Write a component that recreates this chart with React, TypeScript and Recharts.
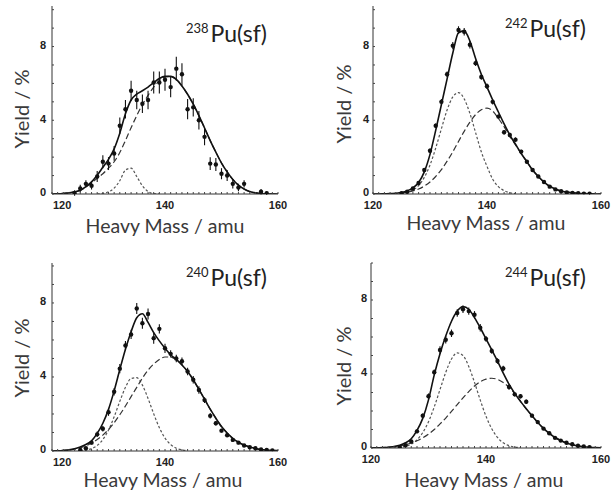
import React from "react";
import { ComposedChart, Line, Scatter, ErrorBar, XAxis, YAxis } from "recharts";

// heavy fragment mass grid (amu)
const MASS = [
  120, 121, 122, 123, 124, 125, 126, 127, 128, 129, 130, 131, 132, 133, 134, 135, 136, 137, 138, 139, 140,
  141, 142, 143, 144, 145, 146, 147, 148, 149, 150, 151, 152, 153, 154, 155, 156, 157, 158, 159, 160,
];
const X_MAJOR = [120, 140, 160];
const Y_MAJOR = [0, 4, 8];
const Y_MINOR = [0, 1, 2, 3, 4, 5, 6, 7, 8, 9, 10];
const NUCLIDES = ["238", "242", "240", "244"];

// 238Pu(sf)
const FIT_238 = [
  0, 0.01, 0.03, 0.06, 0.12, 0.2, 0.4, 0.66, 1.02, 1.45, 1.88, 2.45, 3.3, 4.35, 5.1, 5.42, 5.6, 5.8, 6.04, 6.27, 6.38,
  6.38, 6.22, 5.86, 5.41, 4.87, 4.25, 3.58, 2.9, 2.27, 1.68, 1.2, 0.79, 0.48, 0.27, 0.13, 0.06, 0.03, 0.01, 0, 0,
];
const BROAD_238 = [
  0, 0.01, 0.03, 0.06, 0.12, 0.2, 0.38, 0.6, 0.85, 1.1, 1.4, 1.75, 2.25, 2.9, 3.6, 4.25, 4.85, 5.35, 5.8, 6.15, 6.35,
  6.38, 6.22, 5.86, 5.41, 4.87, 4.25, 3.58, 2.9, 2.27, 1.68, 1.2, 0.79, 0.48, 0.27, 0.13, 0.06, 0.03, 0.01, 0, 0,
];
const NARROW_238 = [
  null, null, null, null, null, null, null, null, 0, 0.03, 0.12, 0.32, 0.72, 1.3, 1.4, 0.95, 0.45, 0.13, 0.02, 0, null,
  null, null, null, null, null, null, null, null, null, null, null, null, null, null, null, null, null, null, null, null,
];
const PT_238_MASS = [
  124, 125, 126, 127, 128, 129, 130, 131, 132, 133, 134, 135, 136, 137, 138, 139, 140, 141, 142, 143, 144, 145, 146,
  147, 148, 149, 150, 151, 152, 153, 154, 157, 158,
];
const PT_238_YIELD = [
  0.05, 0.3, 0.55, 0.45, 0.95, 1.75, 1.65, 2.2, 3.7, 4.6, 5.6, 5.1, 4.9, 5.1, 6.05, 6.05, 6.2, 5.8, 6.8, 6.5, 4.6, 4.7,
  4.0, 3.1, 1.65, 1.6, 1.1, 1.0, 0.55, 0.35, 0.55, 0.12, 0.05,
];
const PT_238_ERR = [
  0.15, 0.2, 0.2, 0.2, 0.3, 0.35, 0.35, 0.4, 0.45, 0.5, 0.55, 0.5, 0.5, 0.5, 0.6, 0.6, 0.6, 0.55, 0.65, 0.6, 0.55, 0.5,
  0.5, 0.45, 0.35, 0.35, 0.3, 0.3, 0.25, 0.2, 0.2, 0.15, 0.1,
];

// 242Pu(sf)
const FIT_242 = [
  0, 0, 0.01, 0.02, 0.04, 0.08, 0.17, 0.33, 0.62, 1.2, 2.15, 3.45, 4.85, 6.25, 7.65, 8.75, 8.85, 8.3, 7.35, 6.5, 5.8,
  5.1, 4.45, 3.8, 3.2, 2.7, 2.2, 1.75, 1.3, 0.95, 0.65, 0.42, 0.27, 0.16, 0.1, 0.06, 0.03, 0.02, 0.01, 0, 0,
];
const BROAD_242 = [
  0, 0, 0.01, 0.02, 0.03, 0.06, 0.1, 0.17, 0.27, 0.43, 0.65, 0.95, 1.32, 1.78, 2.29, 2.85, 3.4, 3.9, 4.31, 4.57, 4.66,
  4.5, 4.1, 3.65, 3.13, 2.67, 2.19, 1.75, 1.3, 0.95, 0.65, 0.42, 0.27, 0.16, 0.1, 0.06, 0.03, 0.02, 0.01, 0, 0,
];
const NARROW_242 = [
  null, null, null, null, null, 0.02, 0.09, 0.21, 0.46, 0.9, 1.57, 2.49, 3.54, 4.56, 5.27, 5.5, 5.16, 4.37, 3.33, 2.29,
  1.5, 0.8, 0.4, 0.18, 0.07, 0.02, null, null, null, null, null, null, null, null, null, null, null, null, null, null, null,
];
const PT_242_MASS = [
  125, 126, 127, 128, 129, 130, 131, 132, 133, 134, 135, 136, 137, 138, 139, 140, 141, 142, 143, 144, 145, 146, 147,
  148, 149, 150, 151, 152, 153, 154, 155, 156, 157, 158,
];
const PT_242_YIELD = [
  0.05, 0.12, 0.3, 0.6, 1.3, 2.35, 3.7, 5.0, 6.5, 8.05, 8.9, 8.8, 8.1, 7.1, 6.35, 5.85, 5.0, 4.2, 3.35, 3.2, 2.95, 2.3,
  1.75, 1.3, 0.95, 0.65, 0.4, 0.25, 0.15, 0.08, 0.06, 0.04, 0.02, 0.01,
];
const PT_242_ERR = [
  0.05, 0.05, 0.08, 0.1, 0.1, 0.12, 0.12, 0.15, 0.15, 0.2, 0.2, 0.2, 0.2, 0.15, 0.15, 0.15, 0.15, 0.12, 0.12, 0.12,
  0.12, 0.1, 0.1, 0.1, 0.08, 0.08, 0.08, 0.05, 0.05, 0.05, 0.05, 0.05, 0.05, 0.05,
];

// 240Pu(sf)
const FIT_240 = [
  0, 0.01, 0.03, 0.06, 0.12, 0.22, 0.35, 0.55, 0.95, 1.5, 2.25, 3.25, 4.4, 5.5, 6.45, 7.2, 7.42, 6.95, 6.4, 5.95, 5.55,
  5.2, 4.95, 4.65, 4.3, 3.85, 3.33, 2.8, 2.26, 1.77, 1.32, 0.97, 0.68, 0.47, 0.32, 0.22, 0.14, 0.08, 0.05, 0.03, 0.02,
];
const BROAD_240 = [
  0, 0.01, 0.03, 0.05, 0.1, 0.17, 0.27, 0.44, 0.62, 0.86, 1.16, 1.53, 1.96, 2.43, 2.94, 3.44, 3.94, 4.37, 4.7, 4.95,
  5.08, 5.08, 4.93, 4.65, 4.3, 3.85, 3.33, 2.8, 2.26, 1.77, 1.32, 0.97, 0.68, 0.47, 0.32, 0.22, 0.14, 0.08, 0.05, 0.03,
  0.02,
];
const NARROW_240 = [
  null, null, null, null, null, 0.02, 0.05, 0.13, 0.3, 0.62, 1.13, 1.85, 2.68, 3.44, 3.92, 3.96, 3.56, 2.84, 2.01, 1.26,
  0.7, 0.35, 0.15, 0.06, 0.02, null, null, null, null, null, null, null, null, null, null, null, null, null, null, null,
  null,
];
const PT_240_MASS = [
  125, 126, 127, 128, 129, 130, 131, 132, 133, 134, 135, 136, 137, 138, 139, 140, 141, 142, 143, 144, 145, 146, 147,
  148, 149, 150, 151, 152, 153, 154, 155, 156, 157, 158, 159,
];
const PT_240_YIELD = [
  0.05, 0.15, 0.45, 0.9, 1.2, 2.1, 3.2, 4.45, 5.7, 6.3, 7.7, 6.9, 7.4, 6.1, 6.6, 5.55, 5.25, 5.0, 4.85, 4.3, 3.85, 3.3,
  2.75, 1.9, 1.5, 1.1, 0.85, 0.6, 0.45, 0.3, 0.2, 0.15, 0.08, 0.05, 0.03,
];
const PT_240_ERR = [
  0.05, 0.08, 0.1, 0.15, 0.15, 0.2, 0.2, 0.25, 0.25, 0.25, 0.3, 0.3, 0.3, 0.3, 0.25, 0.25, 0.2, 0.2, 0.2, 0.2, 0.2, 0.2,
  0.15, 0.15, 0.12, 0.1, 0.1, 0.08, 0.08, 0.06, 0.05, 0.05, 0.05, 0.05, 0.05,
];

// 244Pu(sf)
const FIT_244 = [
  0.01, 0.01, 0.02, 0.04, 0.08, 0.15, 0.28, 0.5, 0.95, 1.6, 2.6, 3.95, 5.1, 6.05, 6.85, 7.4, 7.64, 7.5, 7.05, 6.5, 5.9,
  5.3, 4.7, 4.05, 3.45, 2.95, 2.52, 2.12, 1.74, 1.38, 1.06, 0.79, 0.57, 0.41, 0.27, 0.18, 0.11, 0.07, 0.04, 0.02, 0.01,
];
const BROAD_244 = [
  0.01, 0.01, 0.02, 0.04, 0.07, 0.11, 0.18, 0.27, 0.39, 0.55, 0.75, 1.0, 1.3, 1.62, 1.98, 2.35, 2.71, 3.05, 3.35, 3.58,
  3.72, 3.77, 3.71, 3.54, 3.28, 2.94, 2.52, 2.12, 1.74, 1.38, 1.06, 0.79, 0.57, 0.41, 0.27, 0.18, 0.11, 0.07, 0.04, 0.02,
  0.01,
];
const NARROW_244 = [
  null, null, null, null, 0.01, 0.04, 0.09, 0.21, 0.44, 0.83, 1.42, 2.22, 3.16, 4.09, 4.81, 5.14, 5.0, 4.41, 3.55, 2.59,
  1.72, 1.04, 0.57, 0.28, 0.13, 0.05, 0.02, null, null, null, null, null, null, null, null, null, null, null, null, null,
  null,
];
const PT_244_MASS = [
  125, 126, 127, 128, 129, 130, 131, 132, 133, 134, 135, 136, 137, 138, 139, 140, 141, 142, 143, 144, 145, 146, 147,
  148, 149, 150, 151, 152, 153, 154, 155, 156, 157, 158,
];
const PT_244_YIELD = [
  0.05, 0.15, 0.35, 0.9, 1.75, 2.8, 4.1, 5.3, 5.85, 6.2, 7.3, 7.5, 7.4, 7.2, 6.5, 5.9, 5.25, 4.7, 4.3, 3.3, 2.9, 2.8,
  2.5, 1.75, 1.4, 1.05, 0.8, 0.55, 0.4, 0.28, 0.2, 0.12, 0.08, 0.05,
];
const PT_244_ERR = [
  0.05, 0.05, 0.08, 0.1, 0.12, 0.15, 0.15, 0.2, 0.2, 0.2, 0.2, 0.2, 0.2, 0.2, 0.2, 0.15, 0.15, 0.15, 0.15, 0.15, 0.12,
  0.12, 0.12, 0.1, 0.1, 0.08, 0.08, 0.06, 0.05, 0.05, 0.05, 0.05, 0.05, 0.05,
];

const rowsOf = (fit: number[], broad: number[], narrow: (number | null)[]) =>
  MASS.map((mass, i) => ({ mass, fit: fit[i], broad: broad[i], narrow: narrow[i] }));
const pointsOf = (m: number[], y: number[], e: number[]) => m.map((mass, i) => ({ mass, y: y[i], err: e[i] }));

const TICK_FONT = "'Liberation Sans', Arial, sans-serif";
const TITLE_FONT = "Lato, 'Open Sans', sans-serif";

// plot frames in page pixels, and where the texts sit
const PANELS = [
  { L: 52, T: 6, R: 278, B: 194, yMax: 10.2, gap: 6, edge120: true, tx: 165, ty: 233, yx: 29, yy: 109, tagX: 267, tagY: 42,
    rows: rowsOf(FIT_238, BROAD_238, NARROW_238), pts: pointsOf(PT_238_MASS, PT_238_YIELD, PT_238_ERR) },
  { L: 373, T: 6, R: 601, B: 194, yMax: 10.2, gap: 4, edge120: false, tx: 486, ty: 230, yx: 351, yy: 104, tagX: 586, tagY: 37,
    rows: rowsOf(FIT_242, BROAD_242, NARROW_242), pts: pointsOf(PT_242_MASS, PT_242_YIELD, PT_242_ERR) },
  { L: 52, T: 263, R: 278, B: 451, yMax: 10.16, gap: 6, edge120: true, tx: 163, ty: 486.5, yx: 29, yy: 358, tagX: 267, tagY: 286,
    rows: rowsOf(FIT_240, BROAD_240, NARROW_240), pts: pointsOf(PT_240_MASS, PT_240_YIELD, PT_240_ERR) },
  { L: 371, T: 263, R: 601, B: 448, yMax: 10.0, gap: 4, edge120: false, tx: 484, ty: 486.5, yx: 351, yy: 366, tagX: 586, tagY: 286,
    rows: rowsOf(FIT_244, BROAD_244, NARROW_244), pts: pointsOf(PT_244_MASS, PT_244_YIELD, PT_244_ERR) },
];

const dot = (p: any) => <circle cx={p.cx} cy={p.cy} r={2.2} fill="#111" />;

function Panel({ geo }: { geo: any }) {
  const yw = 52;
  const xh = 30;
  const width = geo.R - geo.L + yw + 10;
  const height = geo.B - geo.T + 6 + xh + 4;

  const renderXTick = (p: any) => {
    const v = p.payload.value;
    if (!X_MAJOR.includes(v)) return <g />;
    const start = geo.edge120 && v === 120;
    return (
      <text
        x={start ? p.x + 1 : p.x}
        y={p.y + 1}
        dy="0.71em"
        textAnchor={start ? "start" : "middle"}
        fontFamily={TICK_FONT}
        fontSize={11}
        fontWeight={700}
        fill="#222"
      >
        {v}
      </text>
    );
  };

  const renderYTick = (p: any) => {
    const v = p.payload.value;
    if (!Y_MAJOR.includes(v)) return <g />;
    return (
      <text
        x={p.x}
        y={p.y - 1.5}
        dy="0.355em"
        textAnchor="end"
        fontFamily={TICK_FONT}
        fontSize={11}
        fontWeight={700}
        fill="#222"
      >
        {v}
      </text>
    );
  };

  return (
    <div style={{ position: "absolute", left: geo.L - yw, top: geo.T - 6 }}>
      <ComposedChart width={width} height={height} data={geo.rows} margin={{ top: 6, right: 10, bottom: 4, left: 0 }}>
        <XAxis
          xAxisId="top"
          orientation="top"
          type="number"
          dataKey="mass"
          domain={[120, 160]}
          allowDataOverflow
          ticks={MASS}
          interval={0}
          mirror
          height={0}
          tick={false}
          tickSize={2}
          tickLine={{ stroke: "#444" }}
          axisLine={{ stroke: "#333" }}
        />
        <XAxis
          type="number"
          dataKey="mass"
          domain={[120, 160]}
          allowDataOverflow
          ticks={MASS}
          interval={0}
          height={xh}
          tickSize={-2}
          tickMargin={8}
          tick={renderXTick}
          tickLine={{ stroke: "#444" }}
          axisLine={{ stroke: "#333" }}
        />
        <YAxis
          domain={[0, geo.yMax]}
          allowDataOverflow
          ticks={Y_MINOR}
          interval={0}
          width={yw}
          tickSize={-2}
          tickMargin={geo.gap + 2}
          tick={renderYTick}
          tickLine={{ stroke: "#444" }}
          axisLine={{ stroke: "#333" }}
        />
        <YAxis
          yAxisId="right"
          orientation="right"
          mirror
          width={0}
          domain={[0, geo.yMax]}
          allowDataOverflow
          ticks={Y_MINOR}
          interval={0}
          tick={false}
          tickSize={2}
          tickLine={{ stroke: "#444" }}
          axisLine={{ stroke: "#333" }}
        />
        <Line
          dataKey="narrow"
          type="monotone"
          stroke="#555"
          strokeWidth={1.2}
          strokeDasharray="2.5 2"
          dot={false}
          isAnimationActive={false}
        />
        <Line
          dataKey="broad"
          type="monotone"
          stroke="#333"
          strokeWidth={1.2}
          strokeDasharray="6 3"
          dot={false}
          isAnimationActive={false}
        />
        <Line dataKey="fit" type="monotone" stroke="#111" strokeWidth={1.6} dot={false} isAnimationActive={false} />
        <Scatter data={geo.pts} dataKey="y" shape={dot} isAnimationActive={false}>
          <ErrorBar dataKey="err" direction="y" width={0} stroke="#111" strokeWidth={1.1} />
        </Scatter>
      </ComposedChart>
    </div>
  );
}

export default function App() {
  return (
    <div style={{ position: "absolute", left: 0, top: 0, width: 616, height: 495, background: "#fff" }}>
      {PANELS.map((geo, i) => (
        <Panel key={i} geo={geo} />
      ))}
      <svg width={616} height={495} style={{ position: "absolute", left: 0, top: 0, pointerEvents: "none" }}>
        {PANELS.map((p, i) => (
          <g key={i} fontFamily={TITLE_FONT}>
            <text x={p.tx} y={p.ty} textAnchor="middle" fontSize={19.5} fill="#3a3a3a">
              Heavy Mass / amu
            </text>
            <text
              x={p.yx}
              y={p.yy}
              transform={`rotate(-90 ${p.yx} ${p.yy})`}
              textAnchor="middle"
              fontSize={20}
              fill="#3a3a3a"
            >
              Yield / %
            </text>
            <text x={p.tagX} y={p.tagY} textAnchor="end" fontSize={23} fill="#222">
              <tspan fontSize={13} dy={-9}>
                {NUCLIDES[i]}
              </tspan>
              <tspan dx={2} dy={9}>
                Pu(sf)
              </tspan>
            </text>
          </g>
        ))}
      </svg>
    </div>
  );
}
